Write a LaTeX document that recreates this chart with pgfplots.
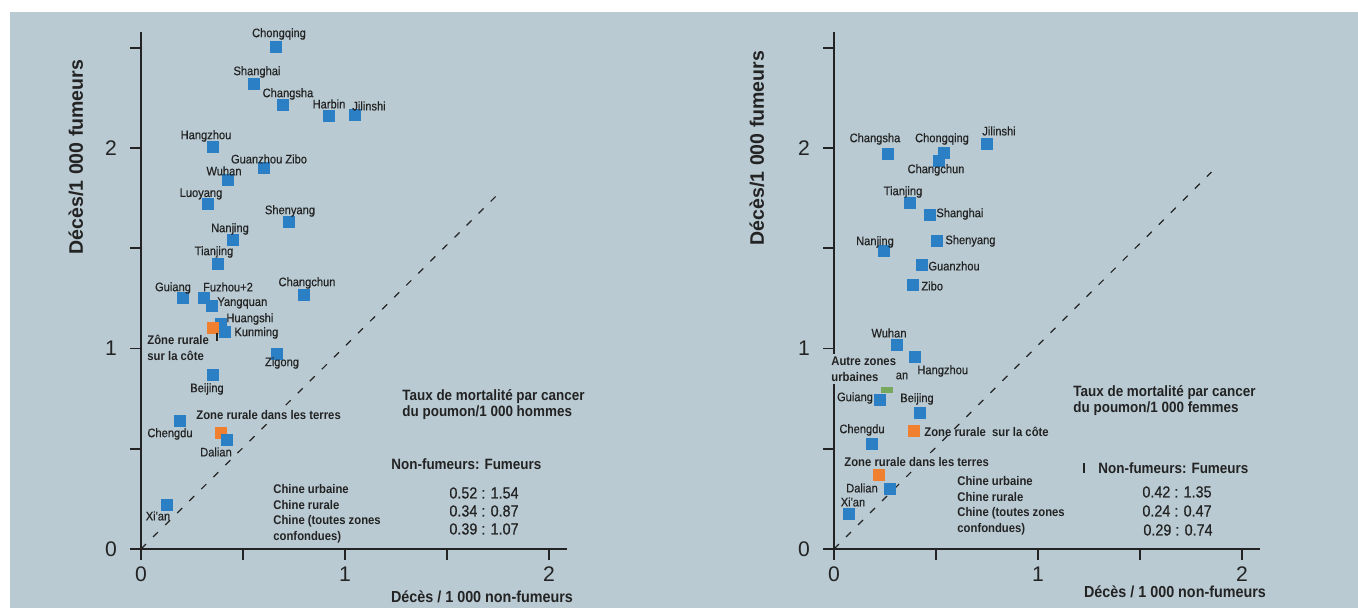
\documentclass[border=0pt]{standalone}
\usepackage{fontspec}
\setmainfont{Liberation Sans}[FakeStretch=0.9]
\newfontfamily\widefont{Liberation Sans}
\newfontfamily\medfont{Liberation Sans}[FakeStretch=0.9, FakeBold=0.5]
\usepackage{pgfplots}
\pgfplotsset{compat=1.18}
\definecolor{bg}{HTML}{B9CAD3}
\definecolor{ink}{HTML}{232323}
\definecolor{pblue}{HTML}{2B80C5}
\definecolor{porange}{HTML}{F0802F}
\definecolor{pgreen}{HTML}{78A85E}
\newcommand{\fs}[1]{\fontsize{#1}{#1}\selectfont}
\pgfplotsset{panel/.style={
  x=102bp, y=100.25bp, xmin=0, xmax=2.09, ymin=0, ymax=2.58,
  axis lines=left, axis line style={-, ink, line width=1bp},
  xtick={0,1,2}, ytick={0,1,2}, minor xtick={0.5,1.5}, minor ytick={0.5,1.5,2.5},
  tick align=outside, major tick length=5.5bp, minor tick length=5.5bp,
  tick style={ink, line width=0.8bp},
  ticklabel style={font=\widefont\fs{10.6}, text=ink},
  yticklabel style={xshift=-3bp},
  /pgf/number format/assume math mode=true,
  clip=false, anchor=south west,
},
bluepts/.style={only marks, color=pblue, mark=square*, mark size=2.7bp, mark options={draw=pblue, fill=pblue, line width=0pt}},
orangepts/.style={only marks, color=porange, mark=square*, mark size=2.7bp, mark options={draw=porange, fill=porange, line width=0pt}},
diag/.style={no marks, ink, line width=0.6bp, dash pattern=on 3.5bp off 5bp}
}
\tikzset{
  lab/.style={font=\medfont\fs{6.2}, inner sep=0pt, text=ink},
  labb/.style={font=\bfseries\fs{6.3}, inner sep=0pt, text=ink},
  note/.style={font=\bfseries\fs{7.5}, inner sep=0pt, text=ink},
  ratio/.style={font=\medfont\fs{8}, inner sep=0pt, text=ink},
  alab/.style={font=\bfseries\fs{8}, inner sep=0pt, text=ink},
  ylab/.style={font=\widefont\bfseries\fs{9.8}, inner sep=0pt, text=ink, rotate=90}
}
\begin{document}
\begin{tikzpicture}[x=0.5bp,y=0.5bp]
\useasboundingbox (0,0) rectangle (1358,608);
\fill[white] (0,0) rectangle (1358,608);
\fill[bg] (10,0) rectangle (1358,596);

% ---------------- left panel (hommes)
\begin{axis}[panel, at={(70.5bp,29.5bp)}]
\addplot[diag] coordinates {(0,0) (1.77,1.79)};
\addplot[orangepts] table {
x y
0.392 0.579
};
\addplot[bluepts] table {
x y
0.662 2.504
0.554 2.319
0.696 2.214
0.922 2.160
1.049 2.165
0.353 2.005
0.603 1.900
0.426 1.840
0.328 1.721
0.725 1.631
0.451 1.541
0.377 1.421
0.799 1.267
0.206 1.252
0.309 1.252
0.348 1.212
0.392 1.122
0.412 1.082
0.667 0.973
0.353 0.868
0.191 0.638
0.422 0.544
0.127 0.219
};
\addplot[orangepts] table {
x y
0.353 1.102
};
\end{axis}

% ---------------- right panel (femmes)
\begin{axis}[panel, at={(417bp,29.5bp)}]
\addplot[diag] coordinates {(0,0) (1.85,1.88)};
\addplot[bluepts] table {
x y
0.265 1.970
0.539 1.975
0.515 1.935
0.750 2.020
0.373 1.726
0.471 1.666
0.505 1.536
0.245 1.486
0.431 1.416
0.387 1.317
0.309 1.017
0.397 0.958
0.225 0.743
0.422 0.678
0.186 0.524
0.275 0.299
0.074 0.175
};
\addplot[orangepts] table {
x y
0.392 0.589
0.221 0.369
};
\addplot[only marks, color=pgreen, mark=square*, mark size=2.7bp, mark options={draw=pgreen, fill=pgreen, line width=0pt, yscale=0.47}] table {
x y
0.258 0.791
};
\end{axis}

\begin{scope}[yshift=304bp, yscale=-1]
% axis titles
\node[ylab] at (76,157) {Décès/1 000 fumeurs};
\node[ylab] at (757,148) {Décès/1 000 fumeurs};
\node[alab] at (482,597) {Décès / 1 000 non-fumeurs};
\node[alab] at (1175,592) {Décès / 1 000 non-fumeurs};

% left labels
\node[lab] at (279,34) {Chongqing};
\node[lab] at (257,72) {Shanghai};
\node[lab] at (288,94) {Changsha};
\node[lab] at (329,104) {Harbin};
\node[lab] at (369,106) {Jilinshi};
\node[lab] at (206,136) {Hangzhou};
\node[lab] at (269,159) {Guanzhou Zibo};
\node[lab] at (224,171) {Wuhan};
\node[lab] at (201,194) {Luoyang};
\node[lab] at (290,211) {Shenyang};
\node[lab] at (230,229) {Nanjing};
\node[lab] at (214,252) {Tianjing};
\node[lab] at (307,283) {Changchun};
\node[lab] at (173,288) {Guiang};
\node[lab] at (228,287) {Fuzhou+2};
\node[lab, anchor=west] at (217,303) {Yangquan};
\node[lab, anchor=west] at (226,319) {Huangshi};
\node[lab, anchor=west] at (234,333) {Kunming};
\node[lab] at (282,363) {Zigong};
\node[lab] at (207,389) {Beijing};
\node[lab] at (170,434) {Chengdu};
\node[lab] at (216,452) {Dalian};
\node[lab] at (158,516) {Xi'an};
\node[labb, anchor=west] at (147,340) {Zône rurale};
\node[labb, anchor=west] at (147,356) {sur la côte};
\node[labb, anchor=west, fill=bg, inner sep=1bp] at (194,415) {Zone rurale dans les terres};
\draw[ink, line width=0.7bp] (217,333) -- (217,341);
\node[note, anchor=west] at (402,397) {Taux de mortalité par cancer};
\node[note, anchor=west] at (402,413) {du poumon/1 000 hommes};
\node[note, anchor=west] at (391,464) {Non-fumeurs: Fumeurs};
\node[ratio] at (484,493) {0.52 : 1.54};
\node[ratio] at (484,511) {0.34 : 0.87};
\node[ratio] at (484,529) {0.39 : 1.07};
\node[labb, anchor=west] at (273,489) {Chine urbaine};
\node[labb, anchor=west] at (273,505) {Chine rurale};
\node[labb, anchor=west] at (273,521) {Chine (toutes zones};
\node[labb, anchor=west] at (273,537) {confondues)};

% right labels
\node[lab] at (875,139) {Changsha};
\node[lab] at (942,139) {Chongqing};
\node[lab] at (999,131) {Jilinshi};
\node[lab] at (936,170) {Changchun};
\node[lab] at (903,192) {Tianjing};
\node[lab, anchor=west] at (936,214) {Shanghai};
\node[lab, anchor=west] at (945,241) {Shenyang};
\node[lab] at (875,242) {Nanjing};
\node[lab, anchor=west] at (928,266) {Guanzhou};
\node[lab, anchor=west] at (921,286) {Zibo};
\node[lab] at (889,333) {Wuhan};
\node[lab, anchor=west] at (917,371) {Hangzhou};
\node[labb, anchor=west, fill=bg, inner sep=1.5bp, align=left] at (828,369) {Autre zones\\[1.5bp]urbaines};
\node[lab] at (902,376) {an};
\node[lab] at (855,398) {Guiang};
\node[lab] at (917,399) {Beijing};
\node[lab] at (862,430) {Chengdu};
\node[lab] at (862,488) {Dalian};
\node[lab] at (853,502) {Xi'an};
\node[labb, anchor=west] at (924,432) {Zone rurale\ \ sur la côte};
\node[labb, anchor=west, fill=bg, inner sep=1bp] at (842,462) {Zone rurale dans les terres};
\draw[ink, line width=0.7bp] (1084,463) -- (1084,473);
\node[note, anchor=west] at (1073,393) {Taux de mortalité par cancer};
\node[note, anchor=west] at (1073,409) {du poumon/1 000 femmes};
\node[note, anchor=west] at (1098,468) {Non-fumeurs: Fumeurs};
\node[ratio] at (1177,492) {0.42 : 1.35};
\node[ratio] at (1177,511) {0.24 : 0.47};
\node[ratio] at (1178,530) {0.29 : 0.74};
\node[labb, anchor=west] at (957,481) {Chine urbaine};
\node[labb, anchor=west] at (957,497) {Chine rurale};
\node[labb, anchor=west] at (957,513) {Chine (toutes zones};
\node[labb, anchor=west] at (957,529) {confondues)};
\end{scope}
\end{tikzpicture}
\end{document}
